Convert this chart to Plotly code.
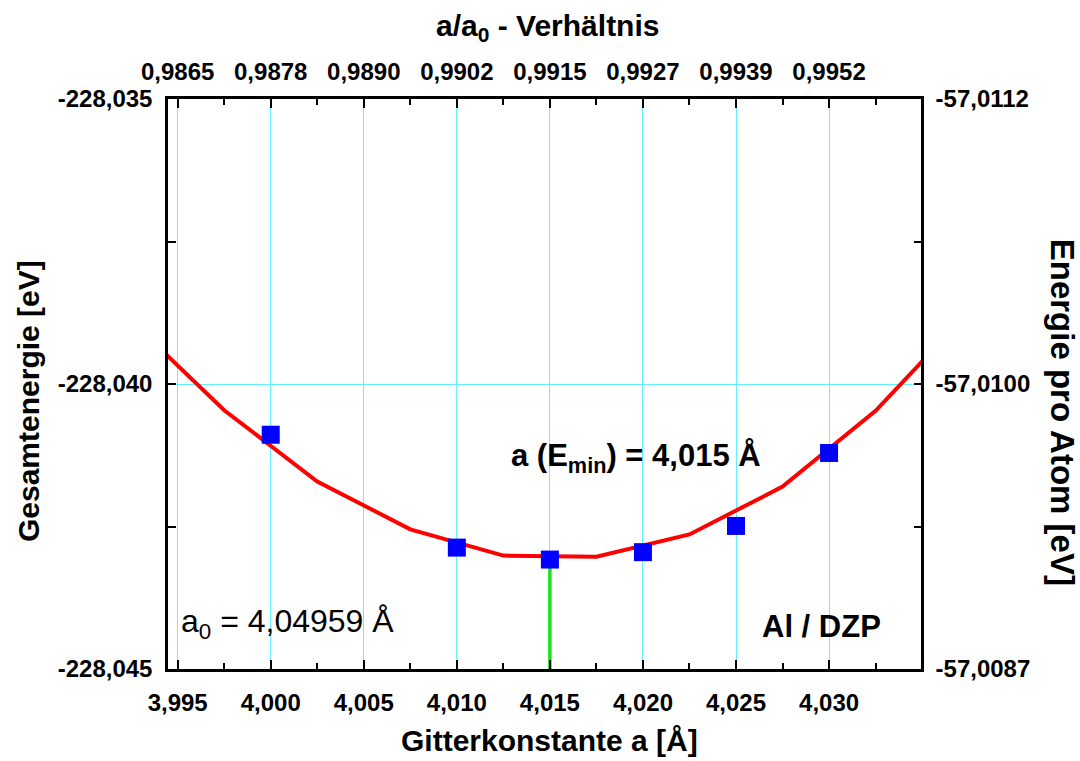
import plotly.graph_objects as go

# ---- data ----
a_points = [4.000, 4.010, 4.015, 4.020, 4.025, 4.030]
E_points = [-228.04089, -228.04287, -228.04308, -228.04295, -228.04249, -228.04121]

fit_a = [3.9925, 3.9975, 4.0025, 4.0075, 4.0125, 4.0175, 4.0225, 4.0275, 4.0325, 4.0375]
fit_E = [-228.03889, -228.04046, -228.04171, -228.04255, -228.04301,
         -228.04303, -228.04264, -228.04180, -228.04047, -228.03874]

a_min = 4.015
E_at_min = -228.04308
y_bottom = -228.045

x_ticks = [3.995, 4.000, 4.005, 4.010, 4.015, 4.020, 4.025, 4.030]
x_ticktext = ["3,995", "4,000", "4,005", "4,010", "4,015", "4,020", "4,025", "4,030"]
x_minor = [3.9975, 4.0025, 4.0075, 4.0125, 4.0175, 4.0225, 4.0275, 4.0325]
top_ticktext = ["0,9865", "0,9878", "0,9890", "0,9902", "0,9915", "0,9927", "0,9939", "0,9952"]

y_ticks = [-228.045, -228.040, -228.035]
y_ticktext = ["-228,045", "-228,040", "-228,035"]
y_minor = [-228.0425, -228.0375]
right_ticktext = ["-57,0087", "-57,0100", "-57,0112"]

x_range = [3.99448, 4.03494]
y_range = [-228.045, -228.035]

FONT = "Liberation Sans, Arial, sans-serif"
GRID = "rgb(100,240,255)"

fig = go.Figure()

fig.add_trace(go.Scatter(x=[a_min, a_min], y=[y_bottom, E_at_min], mode="lines",
                         line=dict(color="rgb(20,230,20)", width=3.5), showlegend=False,
                         hoverinfo="skip"))
fig.add_trace(go.Scatter(x=fit_a, y=fit_E, mode="lines",
                         line=dict(color="#FF0000", width=4), showlegend=False))
fig.add_trace(go.Scatter(x=a_points, y=E_points, mode="markers",
                         marker=dict(symbol="square", size=18, color="#0000FF",
                                     line=dict(width=0)), showlegend=False))
# invisible trace to activate the secondary axes
fig.add_trace(go.Scatter(x=[x_ticks[0]], y=[y_ticks[0]], xaxis="x2", yaxis="y2",
                         mode="markers", marker=dict(opacity=0), showlegend=False,
                         hoverinfo="skip"))

tickfont = dict(family=FONT, size=24, color="black", weight="bold")

fig.update_layout(
    width=1080, height=761,
    margin=dict(l=168, r=159, t=99, b=92),
    paper_bgcolor="white", plot_bgcolor="white",
    font=dict(family=FONT, color="black"),
    xaxis=dict(range=x_range, tickvals=x_ticks, ticktext=x_ticktext,
               ticks="inside", ticklen=9, tickwidth=2, tickcolor="black",
               showgrid=True, gridcolor=GRID, gridwidth=1,
               showline=True, linecolor="black", linewidth=2.5,
               zeroline=False, tickfont=tickfont, ticklabelstandoff=10,
               minor=dict(tickvals=x_minor, ticks="inside", ticklen=6, tickwidth=2,
                          tickcolor="black", showgrid=False)),
    xaxis2=dict(range=x_range, overlaying="x", side="top", tickvals=x_ticks,
                ticktext=top_ticktext, ticks="inside", ticklen=9, tickwidth=2,
                tickcolor="black", showgrid=False, showline=True, linecolor="black",
                linewidth=2.5, zeroline=False, tickfont=tickfont, ticklabelstandoff=7,
                minor=dict(tickvals=x_minor, ticks="inside", ticklen=6, tickwidth=2,
                           tickcolor="black", showgrid=False)),
    yaxis=dict(range=y_range, tickvals=y_ticks, ticktext=y_ticktext,
               ticks="inside", ticklen=8, tickwidth=2, tickcolor="black",
               showgrid=True, gridcolor=GRID, gridwidth=1,
               showline=True, linecolor="black", linewidth=2.5,
               zeroline=False, tickfont=tickfont, ticklabelstandoff=8,
               minor=dict(tickvals=y_minor, ticks="inside", ticklen=8, tickwidth=2,
                          tickcolor="black", showgrid=False)),
    yaxis2=dict(range=y_range, overlaying="y", side="right", tickvals=y_ticks,
                ticktext=right_ticktext, ticks="inside", ticklen=7, tickwidth=2,
                tickcolor="black", showgrid=False, showline=True, linecolor="black",
                linewidth=2.5, zeroline=False, tickfont=tickfont, ticklabelstandoff=7,
                minor=dict(tickvals=y_minor, ticks="inside", ticklen=7, tickwidth=2,
                           tickcolor="black", showgrid=False)),
)

ann = []
bold30 = dict(family=FONT, size=30, color="black", weight="bold")
ann.append(dict(text="a/a<sub>0</sub> - Verhältnis", x=0.5046, y=1.1263, xref="paper",
                yref="paper", showarrow=False, font=bold30, xanchor="center", yanchor="middle"))
ann.append(dict(text="Gitterkonstante a [Å]", x=0.507, y=-0.1246, xref="paper",
                yref="paper", showarrow=False, font=bold30, xanchor="center", yanchor="middle"))
ann.append(dict(text="Gesamtenergie [eV]", x=-0.186, y=0.47, xref="paper",
                yref="paper", showarrow=False, font=bold30, textangle=-90,
                xanchor="center", yanchor="middle"))
ann.append(dict(text="Energie pro Atom [eV]", x=1.1875, y=0.451, xref="paper",
                yref="paper", showarrow=False,
                font=dict(family=FONT, size=33, color="black", weight="bold"),
                textangle=90, xanchor="center", yanchor="middle"))
ann.append(dict(text="a (E<sub>min</sub>) = 4,015 Å", x=0.6215, y=0.37, xref="paper",
                yref="paper", showarrow=False,
                font=dict(family=FONT, size=31, color="black", weight="bold"),
                xanchor="center", yanchor="middle"))
ann.append(dict(text="a<sub>0</sub> = 4,04959 Å", x=0.0146, y=0.08, xref="paper",
                yref="paper", showarrow=False,
                font=dict(family=FONT, size=32, color="black"),
                xanchor="left", yanchor="middle"))
ann.append(dict(text="Al / DZP", x=0.8685, y=0.0737, xref="paper",
                yref="paper", showarrow=False,
                font=dict(family=FONT, size=31, color="black", weight="bold"),
                xanchor="center", yanchor="middle"))
fig.update_layout(annotations=ann)

fig.write_html("out.html")
